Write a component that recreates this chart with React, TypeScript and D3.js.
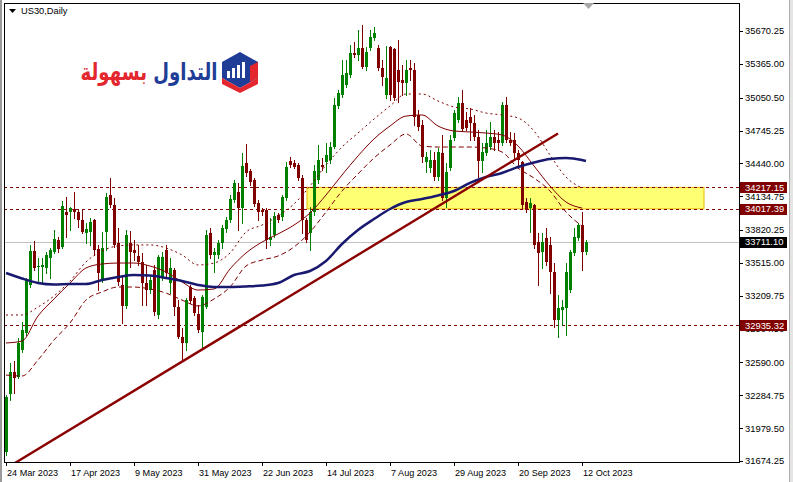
import React from 'react';
import * as d3 from 'd3';

// ---- Data (US30 Daily) ----
const opens = [31758,32297,32501,32455,32706,32864,33310,33626,33477,33477,33468,33561,33617,33728,33663,33988,33988,34016,33988,33914,33793,33802,33914,33644,33356,33802,34146,34053,33700,33310,33115,33700,33635,33579,33524,33328,33263,33449,33031,33384,33635,33328,33449,33105,32827,32771,33291,33189,33040,32873,33105,33793,33589,33589,33700,33830,33914,34100,34174,34025,34444,34369,34286,34072,34007,34007,33728,33774,33960,33942,34118,34462,34444,34425,34304,33914,33793,33988,34286,34425,34453,34471,34592,34973,35075,35168,35261,35466,35447,35512,35336,35512,35605,35512,35326,35075,35521,35503,35308,35215,35187,35326,35308,34890,34797,34453,34397,34471,34313,34537,34118,34397,34676,34843,35001,34843,34871,34815,34685,34462,34537,34592,34685,34657,34629,34983,34657,34657,34537,34453,34081,34025,34053,33709,33617,33747,33682,33431,32985,33078,33096,33263,33607,33747,33867,33617];
const highs = [32288,32585,32604,32817,32966,33375,33682,33719,33561,33561,33617,33654,33821,33756,34090,34128,34035,34174,34016,34007,33886,33932,33923,33682,33802,34165,34304,34118,33840,33384,33821,33812,33728,33682,33607,33496,33384,33496,33589,33617,33682,33561,33468,33170,32910,33189,33310,33208,33124,33217,33821,33840,33654,33728,33867,33941,34146,34286,34258,34537,34620,34388,34304,34100,34025,34025,33932,33988,33979,34146,34453,34499,34471,34444,34332,33932,34035,34425,34611,34490,34629,34639,35048,35122,35401,35401,35540,35568,35680,35726,35521,35680,35707,35540,35401,35531,35531,35512,35587,35354,35401,35401,35373,34936,34843,34546,34564,34546,34583,34704,34444,34704,34936,35057,35122,34918,34955,34890,34750,34629,34750,34825,34750,34732,35010,35057,34732,34722,34564,34462,34118,34118,34063,33793,33793,33840,33756,33514,33217,33170,33514,33635,33840,33886,33988,33728];
const lows = [31730,32241,32306,32446,32687,32845,33291,33449,33328,33328,33421,33375,33607,33617,33654,33756,33821,33932,33849,33793,33700,33682,33589,33263,33337,33635,34035,33663,33310,32957,33096,33477,33542,33496,33124,33124,33235,33031,33003,33356,33394,33235,33031,32817,32613,32706,33143,33031,32873,32724,33096,33561,33431,33561,33654,33802,33895,34081,33821,33886,34323,34239,34044,33914,33960,33654,33682,33756,33895,33914,34100,34406,34397,34286,33793,33709,33635,33960,34258,34379,34360,34444,34583,34955,35057,35150,35243,35428,35401,35326,35308,35494,35587,35308,35168,35048,35029,35029,35010,35075,35075,35215,34797,34750,34453,34360,34360,34286,34286,34100,34035,34379,34657,34825,34741,34750,34657,34657,34313,34360,34518,34574,34564,34564,34611,34639,34611,34490,34397,34025,33988,33802,33654,33310,33468,33496,33235,32919,32827,32938,32845,33245,33589,33728,33449,33598];
const closes = [32269,32501,32446,32771,32892,33356,33626,33468,33486,33495,33589,33635,33737,33644,34044,33960,34025,33988,33914,33802,33830,33895,33635,33421,33654,34128,34053,33682,33338,33115,33774,33617,33607,33524,33328,33263,33356,33059,33570,33570,33421,33468,33105,32827,32771,33170,33161,33050,32892,33198,33774,33589,33617,33700,33840,33914,34109,34258,34025,34416,34351,34267,34063,33988,33988,33728,33756,33951,33914,34128,34406,34425,34406,34304,33914,33728,33988,34369,34471,34406,34518,34592,34983,35094,35261,35280,35466,35447,35512,35336,35475,35614,35652,35326,35243,35233,35075,35048,35196,35187,35308,35308,34871,34778,34499,34499,34471,34313,34546,34118,34360,34657,34908,35001,34760,34769,34815,34685,34462,34546,34629,34685,34629,34629,34983,34657,34629,34537,34471,34053,34007,34072,33682,33607,33709,33524,33431,32985,33096,33105,33431,33617,33756,33867,33617,33711.1];

// indicator samples (bar index -> value)
const bandIdx = d3.range(0, 145, 4);
const upperBand = [33031,33031,33105,33208,33347,33524,33626,33673,33682,33682,33654,33589,33496,33514,33607,33802,33867,33951,34063,34230,34425,34592,34722,34852,34973,35085,35085,35020,34964,34946,34908,34890,34862,34741,34518,34313,34211];
const middleBand = [32771,32789,33022,33180,33328,33468,33505,33514,33514,33486,33431,33338,33263,33273,33459,33607,33709,33784,33867,33979,34146,34332,34509,34667,34787,34880,34890,34787,34741,34732,34722,34704,34602,34416,34230,34081,34025];
const lowerBand = [32473,32464,32613,32799,32957,33170,33245,33291,33291,33273,33235,33170,33115,33180,33291,33486,33542,33579,33663,33802,33988,34183,34342,34490,34611,34713,34602,34592,34592,34592,34583,34546,34397,34304,34183,33988,33858];
const maIdx = [...d3.range(0, 145, 4), 145];
const maValues = [33421,33370,33328,33314,33319,33319,33356,33384,33403,33398,33375,33347,33310,33291,33291,33296,33305,33328,33403,33440,33533,33691,33821,33923,34016,34081,34109,34142,34183,34258,34313,34351,34406,34448,34481,34490,34471,34462];

const levelLines = [34217.15, 34017.39, 32935.32];
const currentPrice = 33711.10;
const zoneBars = [75.25, 174.5];
const zonePrices = [34017.39, 34217.15];
const trendBars = [0, 138];
const trendPrices = [31605, 34718];

const priceTicks = [35670.25,35365.00,35050.50,34745.25,34440.00,34134.75,33820.25,33515.00,33209.75,32904.50,32590.00,32284.75,31979.50,31674.25];
const dateLabels = ['24 Mar 2023','17 Apr 2023','9 May 2023','31 May 2023','22 Jun 2023','14 Jul 2023','7 Aug 2023','29 Aug 2023','20 Sep 2023','12 Oct 2023'];
const dateIdx = [0,16,32,48,64,80,96,112,128,144];
const logoWords = ['التداول', 'بسهولة'];

const BULL = '#008000';
const BEAR = '#800000';
const LINE_RED = '#800000';

export default function App() {
  const W = 793, H = 482;
  const L = 4, T = 3, R = 739, B = 462;
  const x = d3.scaleLinear().domain([0, 145]).range([6, 586]);
  const y = d3.scaleLinear().domain([31674.25, 35670.25]).range([461, 31]);

  const bandLine = (vals: number[], idx: number[]) =>
    d3.line<number>().x((_, k) => x(idx[k])).y(d => y(d)).curve(d3.curveMonotoneX)(vals) || '';

  const trend = d3.line<number>().x((_, k) => x(trendBars[k])).y(d => y(d))(trendPrices) || '';

  const font = 'Liberation Sans, Arial, sans-serif';

  return (
    <svg width={W} height={H} style={{ position: 'absolute', left: 0, top: 0, background: '#fff' }}>
      <defs>
        <clipPath id="plot"><rect x={L + 1} y={T + 1} width={R - L - 1} height={B - T - 1} /></clipPath>
      </defs>
      <rect x={0} y={0} width={W} height={H} fill="#fff" />
      <rect x={0} y={0} width={2} height={H} fill="#9a9a9a" />
      <rect x={789} y={0} width={4} height={H} fill="#e4e4e4" />
      <line x1={789.5} x2={789.5} y1={0} y2={H} stroke="#b0b0b0" />

      <g clipPath="url(#plot)">
        {/* yellow zone */}
        <rect x={x(zoneBars[0])} y={y(zonePrices[1])} width={x(zoneBars[1]) - x(zoneBars[0])}
          height={y(zonePrices[0]) - y(zonePrices[1])} fill="#ffff73" stroke="#e8b800" strokeWidth={1} />
        {/* current price */}
        <line x1={L} x2={R} y1={Math.round(y(currentPrice)) + 0.5} y2={Math.round(y(currentPrice)) + 0.5} stroke="#c0c0c0" />
        {levelLines.map((v, k) => (
          <line key={k} x1={L} x2={R} y1={Math.round(y(v)) + 0.5} y2={Math.round(y(v)) + 0.5}
            stroke={LINE_RED} strokeDasharray="3,3" />
        ))}
        {/* candles */}
        <g shapeRendering="crispEdges">
          {opens.map((o, i) => {
            const c = closes[i];
            const col = c >= o ? BULL : BEAR;
            const cx = Math.round(x(i));
            const yt = Math.round(y(Math.max(o, c)));
            const yb = Math.round(y(Math.min(o, c)));
            return (
              <g key={i}>
                <line x1={cx + 0.5} x2={cx + 0.5} y1={Math.round(y(highs[i]))} y2={Math.round(y(lows[i])) + 1} stroke={col} />
                <rect x={cx - 1} y={yt} width={3} height={Math.max(1, yb - yt)} fill={col} />
              </g>
            );
          })}
        </g>
        {/* bands */}
        <path d={bandLine(upperBand, bandIdx)} fill="none" stroke={LINE_RED} strokeWidth={1} strokeDasharray="2,3" />
        <path d={bandLine(middleBand, bandIdx)} fill="none" stroke={LINE_RED} strokeWidth={1} />
        <path d={bandLine(lowerBand, bandIdx)} fill="none" stroke={LINE_RED} strokeWidth={1} strokeDasharray="5,3" />
        {/* moving average */}
        <path d={bandLine(maValues, maIdx)} fill="none" stroke="#191970" strokeWidth={2.5} />
        {/* trend line */}
        <path d={trend} fill="none" stroke="#8b0000" strokeWidth={2.4} />
      </g>

      {/* frame */}
      <rect x={L + 0.5} y={T + 0.5} width={R - L} height={B - T} fill="none" stroke="#000" shapeRendering="crispEdges" />

      {/* price axis */}
      {priceTicks.map((v, k) => (
        <g key={k}>
          <line x1={R} x2={R + 4} y1={Math.round(y(v)) + 0.5} y2={Math.round(y(v)) + 0.5} stroke="#000" />
          <text x={R + 6} y={y(v) + 3.4} fontFamily={font} fontSize={9.4} fill="#000">{v.toFixed(2)}</text>
        </g>
      ))}
      {levelLines.map((v, k) => (
        <g key={'l' + k}>
          <rect x={R + 1} y={Math.round(y(v)) - 5} width={47} height={11} fill="#800000" />
          <text x={R + 6} y={y(v) + 3.4} fontFamily={font} fontSize={9.4} fill="#fff">{v.toFixed(2)}</text>
        </g>
      ))}
      <rect x={R + 1} y={Math.round(y(currentPrice)) - 5} width={47} height={11} fill="#000" />
      <text x={R + 6} y={y(currentPrice) + 3.4} fontFamily={font} fontSize={9.4} fill="#fff">{currentPrice.toFixed(2)}</text>

      {/* date axis */}
      {dateIdx.map((d, k) => (
        <g key={k}>
          <line x1={Math.round(x(d)) + 0.5} x2={Math.round(x(d)) + 0.5} y1={B} y2={B + 4} stroke="#000" />
          <text x={x(d) + 1} y={476} fontFamily={font} fontSize={9.1} fill="#000">{dateLabels[k]}</text>
        </g>
      ))}

      {/* title */}
      <polygon points="9,9 16,9 12.5,13" fill="#000" />
      <text x={21} y={14} fontFamily={font} fontSize={9.3} fill="#000">US30,Daily</text>
      <polygon points="583,3 594,3 588.5,9" fill="#a8a8a8" />

      {/* logo */}
      <g>
        <text x={149} y={80} fontFamily="DejaVu Sans, sans-serif" fontWeight="bold" fontSize={24}
          textAnchor="middle" textLength={137} lengthAdjust="spacingAndGlyphs">
          <tspan fill="#1f3c96">{logoWords[0]}</tspan>
          <tspan fill="#e4262e">{' ' + logoWords[1]}</tspan>
        </text>
        <polygon points="222,62 240,52 258,62 258,78 240,88 222,78" fill="#1f3c96" />
        <polygon points="222,78 240,88 258,78 258,84 240,93 222,84" fill="#e4262e" />
        <polygon points="250,66 258,62 258,78 250,82" fill="#e4262e" />
        {[0, 1, 2, 3].map(k => (
          <rect key={k} x={227 + k * 5} y={78 - (7 + k * 3)} width={3} height={7 + k * 3} fill="#fff" />
        ))}
      </g>
    </svg>
  );
}
